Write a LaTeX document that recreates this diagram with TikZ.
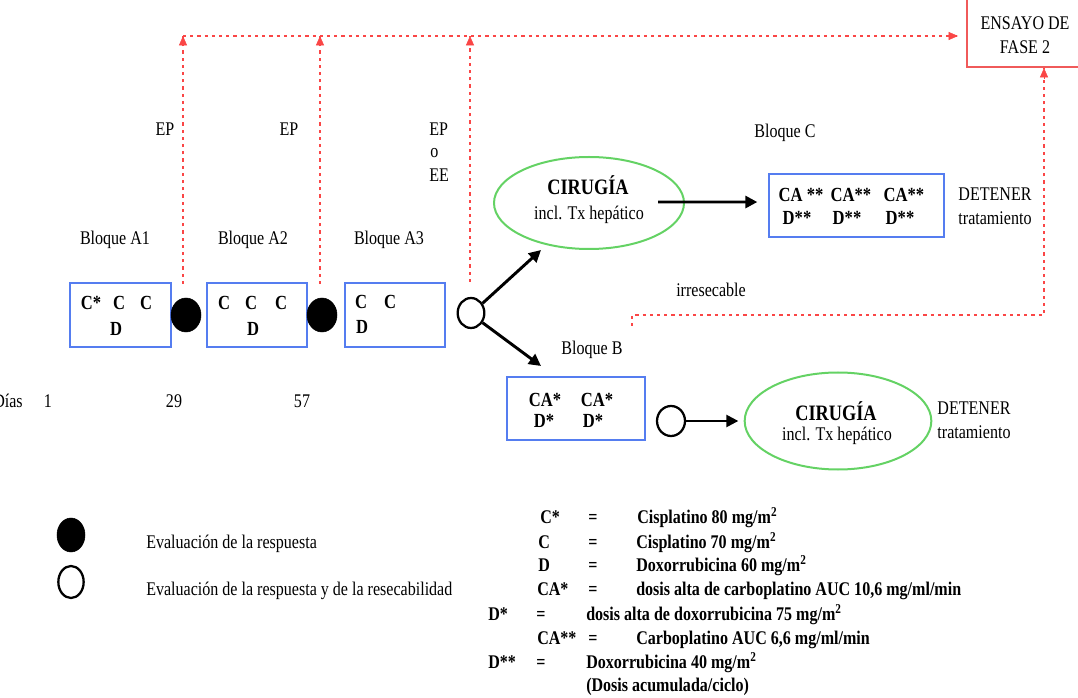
\documentclass[tikz,border=0pt]{standalone}
\usepackage{fontspec}
\setmainfont{Liberation Serif}[FakeStretch=0.83]
\usetikzlibrary{arrows.meta,shapes.geometric}
\definecolor{boxblue}{RGB}{85,125,240}
\definecolor{dotred}{RGB}{250,70,70}
\definecolor{elgreen}{RGB}{100,210,100}
\definecolor{enred}{RGB}{240,90,90}
\tikzset{
  txt/.style={inner sep=0pt, font=\fontsize{14.5}{16}\selectfont},
  btxt/.style={inner sep=0pt, font=\fontsize{15}{17}\selectfont\bfseries},
  ltxt/.style={inner sep=0pt, font=\fontsize{14.5}{17}\selectfont\bfseries, anchor=base west},
  leq/.style={inner sep=0pt, font=\fontsize{14.5}{17}\selectfont\bfseries, anchor=base},
  blbox/.style={draw=boxblue, line width=1.5pt, rectangle, inner sep=0pt},
  grell/.style={draw=elgreen, line width=1.5pt, ellipse, inner sep=0pt},
  fdot/.style={fill=black, draw=black, ellipse, inner sep=0pt},
  odot/.style={draw=black, line width=1.7pt, ellipse, inner sep=0pt},
  reddot/.style={draw=dotred, line width=1.5pt, dash pattern=on 2.4pt off 3pt},
  redtip/.style={-{Triangle[length=7pt,width=6pt]}, dotred},
  blkarrow/.style={draw=black, line width=2.2pt, -{Triangle[length=9pt,width=9pt]}},
}
\begin{document}
\begin{tikzpicture}[x=0.75pt,y=-0.75pt]
\useasboundingbox (0,0) rectangle (1078,698);

% ---- boxes
\node[blbox, minimum width=75.75pt, minimum height=48pt] (A1) at (120.5,315) {};
\node[blbox, minimum width=75pt, minimum height=48pt] (A2) at (257,315) {};
\node[blbox, minimum width=75pt, minimum height=48pt] (A3) at (395,315) {};
\node[blbox, minimum width=131.25pt, minimum height=47.25pt] (C) at (856.5,205.5) {};
\node[blbox, minimum width=103.5pt, minimum height=47.25pt] (B) at (576,408.5) {};
\node[draw=enred, line width=1.5pt, rectangle, minimum width=92.25pt, minimum height=54pt] (ens) at (1028.5,31) {};
\node[txt] at (1025,23) {ENSAYO DE};
\node[txt] at (1025,47) {FASE 2};

% ---- evaluation circles
\node[fdot, minimum width=22.5pt, minimum height=25.5pt] (e1) at (186,315) {};
\node[fdot, minimum width=22.5pt, minimum height=25.5pt] (e2) at (322,315) {};
\node[odot, minimum width=20pt, minimum height=22.5pt] (o1) at (471,313) {};
\node[odot, minimum width=21pt, minimum height=22.5pt] (o2) at (671,421) {};

% ---- ellipses
\node[grell, minimum width=142.5pt, minimum height=69pt] (E1) at (589,203) {};
\node[txt, font=\fontsize{16.5}{18}\selectfont\bfseries] at (588,185) {CIRUGÍA};
\node[txt] at (589,215) {incl. Tx hepático};
\node[grell, minimum width=140pt, minimum height=72.75pt] (E2) at (838,421) {};
\node[txt, font=\fontsize{16.5}{18}\selectfont\bfseries] at (836,411) {CIRUGÍA};
\node[txt] at (837,436) {incl. Tx hepático};

% ---- box contents
\node[btxt] at (91,303) {C*};
\node[btxt] at (119,303) {C};
\node[btxt] at (146,303) {C};
\node[btxt] at (116,329) {D};
\node[btxt] at (224,303) {C};
\node[btxt] at (251,303) {C};
\node[btxt] at (281,303) {C};
\node[btxt] at (253,329) {D};
\node[btxt] at (361,302) {C};
\node[btxt] at (390,302) {C};
\node[btxt] at (362,327) {D};
\node[btxt] at (801,195) {CA **};
\node[btxt] at (851,195) {CA**};
\node[btxt] at (904,195) {CA**};
\node[btxt] at (797,218) {D**};
\node[btxt] at (847,218) {D**};
\node[btxt] at (900,218) {D**};
\node[btxt] at (545,400) {CA*};
\node[btxt] at (597,400) {CA*};
\node[btxt] at (544,421) {D*};
\node[btxt] at (593,421) {D*};

% ---- labels
\node[txt] at (115,240) {Bloque A1};
\node[txt] at (253,240) {Bloque A2};
\node[txt] at (389,240) {Bloque A3};
\node[txt] at (785,133) {Bloque C};
\node[txt] at (592,350) {Bloque B};
\node[txt] at (165,129) {EP};
\node[txt] at (289,129) {EP};
\node[txt, anchor=west] at (429,129) {EP};
\node[txt, anchor=west] at (430,153) {o};
\node[txt, anchor=west] at (429,175) {EE};
\node[txt] at (711,290) {irresecable};
\node[txt] at (995,194) {DETENER};
\node[txt] at (995,218) {tratamiento};
\node[txt] at (974,408) {DETENER};
\node[txt] at (974,432) {tratamiento};

% ---- days
\node[txt, anchor=east] at (23,401) {Días};
\node[txt] at (48,401) {1};
\node[txt] at (174,401) {29};
\node[txt] at (302,401) {57};

% ---- red dotted connectors
\coordinate (v1) at (183,284);
\coordinate (v2) at (320,284);
\coordinate (v3) at (470,282);
\coordinate (h1) at (183,36);
\coordinate (h2) at (320,36);
\coordinate (h3) at (470,36);
\coordinate (hend) at (958,36);
\draw[reddot] (h1) -- (hend);
\draw[redtip] (948,36) -- (hend);
\draw[reddot] (v1) -- (h1);
\draw[redtip] ([yshift=-5pt]h1) -- (h1);
\draw[reddot] (v2) -- (h2);
\draw[redtip] ([yshift=-5pt]h2) -- (h2);
\draw[reddot] (v3) -- (h3);
\draw[redtip] ([yshift=-5pt]h3) -- (h3);
\coordinate (ir0) at (632,326);
\coordinate (ir1) at (632,315);
\coordinate (ir2) at (1044,315);
\draw[reddot] (ir0) -- (ir1) -- (ir2) -- (ens.south -| ir2);
\draw[redtip] ([yshift=-8pt]ens.south -| ir2) -- (ens.south -| ir2);

% ---- black arrows
\coordinate (t1) at (541,250);
\coordinate (t2) at (541,366);
\draw[blkarrow] (o1.40) -- (t1);
\draw[blkarrow] (o1.-40) -- (t2);
\coordinate (c1s) at (658,202);
\draw[blkarrow] (c1s) -- ([xshift=-8pt,yshift=2.6pt]C.west);
\draw[blkarrow, line width=1.8pt] (o2.east) -- ([xshift=-4pt]E2.west);

% ---- legend
\node[fdot, minimum width=21pt, minimum height=25.5pt] (lf) at (71,535) {};
\node[odot, minimum width=19pt, minimum height=24pt] (lo) at (71,582) {};
\node[txt, anchor=base west] at (146,548) {Evaluación de la respuesta};
\node[txt, anchor=base west] at (146,595) {Evaluación de la respuesta y de la resecabilidad};

\node[ltxt] at (540,523) {C*};
\node[leq] at (593,523) {=};
\node[ltxt] at (637,523) {Cisplatino 80 mg/m\textsuperscript{2}};
\node[ltxt] at (538,548) {C};
\node[leq] at (593,548) {=};
\node[ltxt] at (636,548) {Cisplatino 70 mg/m\textsuperscript{2}};
\node[ltxt] at (538,571) {D};
\node[leq] at (593,571) {=};
\node[ltxt] at (636,571) {Doxorrubicina 60 mg/m\textsuperscript{2}};
\node[ltxt] at (537,595) {CA*};
\node[leq] at (593,595) {=};
\node[ltxt] at (636,595) {dosis alta de carboplatino AUC 10,6 mg/ml/min};
\node[ltxt] at (488,620) {D*};
\node[leq] at (541,620) {=};
\node[ltxt] at (586,620) {dosis alta de doxorrubicina 75 mg/m\textsuperscript{2}};
\node[ltxt] at (537,644) {CA**};
\node[leq] at (593,644) {=};
\node[ltxt] at (636,644) {Carboplatino AUC 6,6 mg/ml/min};
\node[ltxt] at (488,668) {D**};
\node[leq] at (541,668) {=};
\node[ltxt] at (586,668) {Doxorrubicina 40 mg/m\textsuperscript{2}};
\node[ltxt] at (586,691) {(Dosis acumulada/ciclo)};
\end{tikzpicture}
\end{document}
